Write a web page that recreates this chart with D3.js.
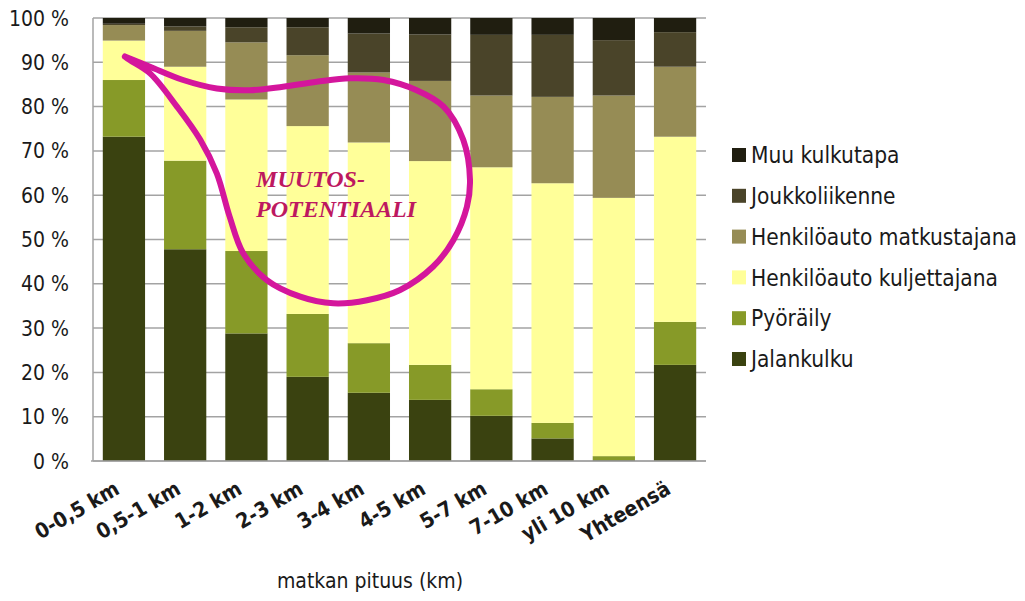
<!DOCTYPE html>
<html>
<head>
<meta charset="utf-8">
<script src="https://cdn.jsdelivr.net/npm/d3@7"></script>
<style>
  body { margin: 0; background: #fff; }
  svg text { font-family: "Liberation Sans Narrow", "Arial Narrow", "DejaVu Sans Condensed", sans-serif; fill: #1a1a1a; }
</style>
</head>
<body>
<div id="chart"></div>
<script>
// categories (trip length)
var categories = ["0-0,5 km", "0,5-1 km", "1-2 km", "2-3 km", "3-4 km", "4-5 km", "5-7 km", "7-10 km", "yli 10 km", "Yhteensä"];

// shares in percent
var jalankulku     = [73.2, 47.8, 28.8, 19.0, 15.4, 13.8, 10.2, 5.1, 0.2, 21.7];
var pyoraily       = [12.8, 20.0, 18.6, 14.2, 11.2, 7.9, 6.0, 3.5, 0.9, 9.7];
var kuljettajana   = [8.9, 21.2, 34.2, 42.4, 45.3, 46.0, 50.1, 54.1, 58.3, 41.8];
var matkustajana   = [3.5, 8.1, 12.9, 16.0, 15.8, 18.1, 16.2, 19.5, 23.1, 15.8];
var joukkoliikenne = [0.3, 1.0, 3.4, 6.3, 8.8, 10.5, 13.7, 14.0, 12.5, 7.8];
var muu            = [1.3, 1.9, 2.1, 2.1, 3.5, 3.7, 3.8, 3.8, 5.0, 3.2];

var seriesNames = ["Jalankulku", "Pyöräily", "Henkilöauto kuljettajana", "Henkilöauto matkustajana", "Joukkoliikenne", "Muu kulkutapa"];
var seriesValues = [jalankulku, pyoraily, kuljettajana, matkustajana, joukkoliikenne, muu];
var yTicks = [0, 10, 20, 30, 40, 50, 60, 70, 80, 90, 100];

// hand drawn "drop" annotation, in (category index, percent) units
var dropPoints = [
  [0.52, 91.3], [0.93, 89.0], [1.47, 86.0], [2.02, 84.1], [2.56, 83.7], [3.10, 84.5],
  [3.65, 85.6], [4.19, 86.4], [4.74, 86.0], [5.28, 83.7], [5.72, 80.0], [6.04, 72.5],
  [6.15, 63.4], [6.10, 57.4], [5.88, 49.9], [5.55, 43.9], [5.01, 38.6], [4.47, 36.3],
  [3.92, 35.6], [3.38, 37.1], [2.83, 40.9], [2.45, 46.9], [2.23, 55.1], [2.02, 64.9],
  [1.75, 72.5], [1.37, 80.0], [0.93, 87.5], [0.60, 90.5], [0.52, 91.3]
];
var dropLabel = ["MUUTOS-", "POTENTIAALI"];

var colors = ["#3a4210", "#879a28", "#ffff99", "#968c55", "#4a4429", "#201e10"];

var margin = {top: 18, right: 319, bottom: 140, left: 93},
    width = 1025 - margin.left - margin.right,
    height = 601 - margin.top - margin.bottom;

var svg = d3.select("#chart")
  .append("svg")
  .attr("width", 1025)
  .attr("height", 601)
  .append("g")
  .attr("transform", "translate(" + margin.left + "," + margin.top + ")");

var x = d3.scaleBand()
  .domain(categories)
  .range([0, width])
  .paddingInner(0.31)
  .paddingOuter(0.16);

var y = d3.scaleLinear()
  .domain([0, 100])
  .range([height, 0]);

// grid lines
svg.append("g")
  .selectAll("line")
  .data(yTicks)
  .enter().append("line")
  .attr("x1", 0)
  .attr("x2", width)
  .attr("y1", function(d) { return y(d); })
  .attr("y2", function(d) { return y(d); })
  .attr("stroke", "#a3a3a3")
  .attr("stroke-width", 1.5);

// stack the data
var rows = categories.map(function(c, i) {
  var r = {cat: c};
  seriesNames.forEach(function(s, j) { r[s] = seriesValues[j][i]; });
  return r;
});
var stacked = d3.stack().keys(seriesNames)(rows);

svg.append("g")
  .selectAll("g")
  .data(stacked)
  .enter().append("g")
  .attr("fill", function(d, i) { return colors[i]; })
  .selectAll("rect")
  .data(function(d) { return d; })
  .enter().append("rect")
  .attr("x", function(d) { return x(d.data.cat); })
  .attr("y", function(d) { return y(d[1]); })
  .attr("width", x.bandwidth())
  .attr("height", function(d) { return y(d[0]) - y(d[1]); });

// axis lines
svg.append("line")
  .attr("x1", 0).attr("x2", 0)
  .attr("y1", 0).attr("y2", height)
  .attr("stroke", "#a3a3a3").attr("stroke-width", 1.5);
svg.append("line")
  .attr("x1", -2).attr("x2", width)
  .attr("y1", height).attr("y2", height)
  .attr("stroke", "#a3a3a3").attr("stroke-width", 1.5);

// y labels
svg.append("g")
  .selectAll("text")
  .data(yTicks)
  .enter().append("text")
  .attr("x", -24)
  .attr("y", function(d) { return y(d); })
  .attr("dy", "0.36em")
  .attr("text-anchor", "end")
  .style("font-size", "21px")
  .style("font-weight", "500")
  .text(function(d) { return d + " %"; });

// x labels, rotated
svg.append("g")
  .selectAll("text")
  .data(categories)
  .enter().append("text")
  .attr("transform", function(d) {
    return "translate(" + (x(d) + x.bandwidth() / 2 - 3) + "," + (height + 32) + ") rotate(-30)";
  })
  .attr("text-anchor", "end")
  .style("font-size", "21px")
  .style("font-weight", "bold")
  .text(function(d) { return d; });

// x axis title
svg.append("text")
  .attr("x", 277)
  .attr("y", height + 127)
  .attr("text-anchor", "middle")
  .style("font-size", "21px")
  .text("matkan pituus (km)");

// annotation
var ax = d3.scaleLinear().domain([0, categories.length]).range([0, width]);
svg.append("path")
  .datum(dropPoints)
  .attr("d", d3.line()
    .x(function(d) { return ax(d[0]); })
    .y(function(d) { return y(d[1]); })
    .curve(d3.curveCatmullRom.alpha(0.5)))
  .attr("fill", "none")
  .attr("stroke", "#d4169c")
  .attr("stroke-width", 6)
  .attr("stroke-linejoin", "round")
  .attr("stroke-linecap", "round");

svg.append("g")
  .selectAll("text")
  .data(dropLabel)
  .enter().append("text")
  .attr("x", ax(2.66))
  .attr("y", function(d, i) { return y(61.9 - i * 6.8); })
  .style("font-family", "'Liberation Serif', 'DejaVu Serif', serif")
  .style("font-style", "italic")
  .style("font-weight", "bold")
  .style("font-size", "24px")
  .style("fill", "#bd1860")
  .text(function(d) { return d; });

// legend
var legend = svg.append("g")
  .attr("transform", "translate(" + (732 - margin.left) + "," + (155 - margin.top) + ")");
var legendItems = legend.selectAll("g")
  .data(seriesNames.slice().reverse())
  .enter().append("g")
  .attr("transform", function(d, i) { return "translate(0," + (i * 40.8) + ")"; });
legendItems.append("rect")
  .attr("x", 0).attr("y", -7)
  .attr("width", 14).attr("height", 14)
  .attr("fill", function(d) { return colors[seriesNames.indexOf(d)]; });
legendItems.append("text")
  .attr("x", 19)
  .attr("dy", "0.36em")
  .style("font-size", "22.5px")
  .text(function(d) { return d; });
</script>
</body>
</html>
